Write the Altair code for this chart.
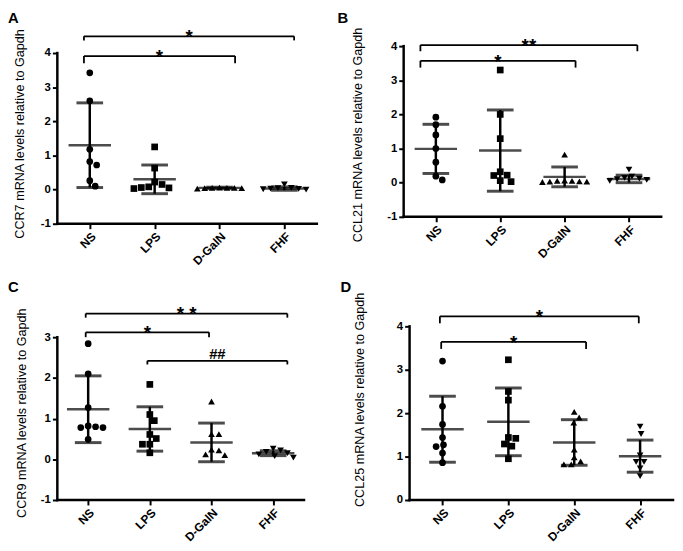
import altair as alt
import pandas as pd
import numpy as np

GROUPS = ["NS", "LPS", "D-GalN", "FHF"]
SHAPES = ["circle", "square", "triangle-up", "triangle-down"]

# ---- Panel A: CCR7 ----
a_ns = [3.42, 2.6, 1.18, 0.82, 0.72, 0.26, 0.1]
a_lps = [1.25, 0.63, 0.22, 0.15, 0.06, 0.05, 0.03, 0.08]
a_dgaln = [0.06, 0.05, 0.05, 0.04, 0.04, 0.03, 0.05]
a_fhf = [0.15, 0.05, 0.03, 0.02, 0.01, 0.04, 0.0]
a_mean = [1.30, 0.30, 0.05, 0.03]
a_sd = [1.24, 0.42, 0.02, 0.05]
a_brackets = [(-0.09, 2.24, 3.91, 3.70, "*"), (-0.09, 3.15, 4.49, 4.37, "*")]

# ---- Panel B: CCL21 ----
b_ns = [1.92, 1.7, 1.4, 1.0, 0.6, 0.19, 0.08]
b_lps = [3.3, 2.0, 1.29, 0.32, 0.21, 0.22, 0.06, 0.03]
b_dgaln = [0.82, 0.05, 0.03, 0.02, 0.04, 0.06, 0.03, 0.05]
b_fhf = [0.38, 0.18, 0.14, 0.1, 0.08, 0.05, 0.12]
b_mean = [0.99, 0.94, 0.17, 0.11]
b_sd = [0.72, 1.19, 0.29, 0.11]
b_brackets = [(-0.24, 2.17, 3.57, 3.37, "*"), (-0.24, 3.13, 4.03, 3.85, "**")]

# ---- Panel C: CCR9 ----
c_ns = [2.84, 2.1, 1.27, 0.82, 0.8, 0.78, 0.78, 0.49]
c_lps = [1.84, 1.1, 0.95, 0.61, 0.51, 0.37, 0.37, 0.16]
c_dgaln = [1.42, 0.62, 0.62, 0.24, 0.22, 0.12, 0.1]
c_fhf = [0.26, 0.22, 0.18, 0.15, 0.12, 0.08, 0.04]
c_mean = [1.23, 0.745, 0.415, 0.15]
c_sd = [0.82, 0.545, 0.475, 0.06]
c_brackets = [(-0.04, 1.96, 3.12, 3.0, "*"), (-0.04, 3.23, 3.58, 3.48, "* *"),
              (0.96, 3.23, 2.42, 2.33, "##")]

# ---- Panel D: CCL25 ----
d_ns = [3.2, 2.16, 1.74, 1.44, 1.27, 1.23, 1.08, 0.86]
d_lps = [3.23, 2.5, 2.3, 1.44, 1.42, 1.29, 1.24, 0.95]
d_dgaln = [2.03, 1.9, 1.78, 1.16, 0.98, 0.89, 0.82, 0.82]
d_fhf = [1.69, 1.52, 1.03, 0.88, 0.88, 0.73, 0.55]
d_mean = [1.63, 1.80, 1.325, 1.01]
d_sd = [0.76, 0.78, 0.525, 0.37]
d_brackets = [(-0.02, 2.18, 3.64, 3.48, "*"), (-0.04, 2.98, 4.23, 4.07, "*")]

FONT = "Liberation Sans"


def swarm(vals, ppu, pps, d=7.5):
    """Simple beeswarm layout: offsets (in category steps) so markers don't overlap."""
    placed = []
    out = [0.0] * len(vals)
    order = sorted(range(len(vals)), key=lambda i: -vals[i])
    cands = sorted(np.arange(-40, 40.01, 0.5), key=lambda o: (abs(o), o < 0))
    for i in order:
        yp = vals[i] * ppu
        chosen = 0.0
        for o in cands:
            if all((o - px) ** 2 + (yp - py) ** 2 >= d * d for px, py in placed):
                chosen = o
                break
        placed.append((chosen, yp))
        out[i] = chosen / pps
    return out


def panel(letter, ytitle, pts, means, sds, brk, ydom, yvals, w, h, tx, ty, lx, ly,
          top_pad=0, left_pad=0):
    """w, h: visible axis extent in px; top_pad/left_pad: extra room inside the cell."""
    ppu = h / (ydom[1] - ydom[0])
    pps = w / 4.0
    ytop = ydom[1] + top_pad / ppu
    xleft = -0.5 - left_pad / pps
    rows = []
    for gi, vals in enumerate(pts):
        offs = swarm(vals, ppu, pps)
        for v, o in zip(vals, offs):
            rows.append({"x": gi + o, "y": v, "g": GROUPS[gi]})
    dp = pd.DataFrame(rows)
    ds = pd.DataFrame({
        "x": list(range(4)),
        "y": means,
        "lo": [m - s for m, s in zip(means, sds)],
        "hi": [m + s for m, s in zip(means, sds)],
    })
    db = pd.DataFrame(brk, columns=["x", "x2", "y", "y2", "label"])
    db["xm"] = (db["x"] + db["x2"]) / 2
    dax = pd.DataFrame({"x": [-0.5], "x2": [3.5], "y": [ydom[0]], "y2": [ydom[1]]})

    xs = alt.Scale(domain=[xleft, 3.5], nice=False, zero=False)
    ys = alt.Scale(domain=[ydom[0], ytop], nice=False, zero=False)
    xa = alt.Axis(values=[0, 1, 2, 3],
                  labelExpr="['NS','LPS','D-GalN','FHF'][datum.value]",
                  title=None, labelAngle=-45, labelAlign="right",
                  labelBaseline="top", labelPadding=2, labelFontSize=12,
                  labelFont=FONT, labelFontWeight="bold", labelColor="black",
                  tickColor="black", tickWidth=2, tickSize=5,
                  grid=False, domain=False)
    ya = alt.Axis(values=yvals, labelExpr="'' + datum.value", title=ytitle, titleX=tx,
                  titleY=top_pad + h / 2 + ty, labelPadding=2, grid=False, domain=False,
                  labelFontSize=11.5, labelFont=FONT, labelFontWeight="bold",
                  labelColor="black", titleFont=FONT, titleFontSize=12.8,
                  titleFontWeight="normal", titleColor="black",
                  tickColor="black", tickWidth=2, tickSize=5,
                  offset=-left_pad)

    def X(f="x"):
        return alt.X(f + ":Q", scale=xs, axis=xa)

    def Y(f="y"):
        return alt.Y(f + ":Q", scale=ys, axis=ya)

    yline = alt.Chart(dax).mark_rule(color="black", strokeWidth=2.5, strokeCap="square").encode(
        x=X("x"), y=Y("y"), y2="y2:Q")
    xline = alt.Chart(dax).mark_rule(color="black", strokeWidth=2.5, strokeCap="square").encode(
        x=X("x"), x2="x2:Q", y=Y("y"))
    points = alt.Chart(dp).mark_point(filled=True, size=46, opacity=1, color="black").encode(
        x=X(), y=Y(),
        shape=alt.Shape("g:N", scale=alt.Scale(domain=GROUPS, range=SHAPES), legend=None))
    err = alt.Chart(ds).mark_rule(color="black", strokeWidth=2.5).encode(
        x=X(), y=Y("lo"), y2="hi:Q")
    mean = alt.Chart(ds).mark_tick(orient="horizontal", size=43, thickness=2.5, color="black").encode(
        x=X(), y=Y("y"))
    caphi = alt.Chart(ds).mark_tick(orient="horizontal", size=27, thickness=3, color="black").encode(
        x=X(), y=Y("hi"))
    caplo = alt.Chart(ds).mark_tick(orient="horizontal", size=27, thickness=3, color="black").encode(
        x=X(), y=Y("lo"))
    bh = alt.Chart(db).mark_rule(color="black", strokeWidth=1.8).encode(
        x=X("x"), x2="x2:Q", y=Y("y"))
    bl = alt.Chart(db).mark_rule(color="black", strokeWidth=1.8).encode(
        x=X("x"), y=Y("y"), y2="y2:Q")
    br = alt.Chart(db).mark_rule(color="black", strokeWidth=1.8).encode(
        x=X("x2"), y=Y("y"), y2="y2:Q")
    stars = alt.Chart(db).transform_filter("indexof(datum.label, '#') < 0").mark_text(
        baseline="alphabetic", dy=7, fontSize=19, fontWeight="bold", font=FONT, color="black").encode(
        x=X("xm"), y=Y("y"), text="label:N")
    hashes = alt.Chart(db).transform_filter("indexof(datum.label, '#') >= 0").mark_text(
        baseline="alphabetic", dy=-2, fontSize=15, fontWeight="bold", font=FONT, color="black").encode(
        x=X("xm"), y=Y("y"), text="label:N")
    lab = alt.Chart(pd.DataFrame({"t": [letter]})).mark_text(
        align="left", baseline="top", fontSize=15, fontWeight="bold", font=FONT, color="black").encode(
        x=alt.value(lx), y=alt.value(ly), text="t:N")

    return alt.layer(yline, xline, points, err, mean, caphi, caplo, bh, bl, br,
                     stars, hashes, lab).properties(width=w + left_pad, height=h + top_pad)


A = panel("A", "CCR7 mRNA levels relative to Gapdh", [a_ns, a_lps, a_dgaln, a_fhf],
          a_mean, a_sd, a_brackets, [-1, 4], [-1, 0, 1, 2, 3, 4], 263, 173, -31, -5, -50, -35,
          top_pad=7)
B = panel("B", "CCL21 mRNA levels relative to Gapdh", [b_ns, b_lps, b_dgaln, b_fhf],
          b_mean, b_sd, b_brackets, [-1, 4], [-1, 0, 1, 2, 3, 4], 261, 173, -40, 3, -67, -35)
C = panel("C", "CCR9 mRNA levels relative to Gapdh", [c_ns, c_lps, c_dgaln, c_fhf],
          c_mean, c_sd, c_brackets, [-1, 3], [-1, 0, 1, 2, 3], 250, 165, -29, -6, -50, -47,
          top_pad=11)
D = panel("D", "CCL25 mRNA levels relative to Gapdh", [d_ns, d_lps, d_dgaln, d_fhf],
          d_mean, d_sd, d_brackets, [0, 4], [0, 1, 2, 3, 4], 267, 176, -44, -14, -64, -47,
          left_pad=6)

chart = alt.concat(A, B, C, D, columns=2, bounds="flush",
                   spacing={"row": 104, "column": 88}).properties(
    padding=0, background="white"
).configure_view(stroke=None)

chart.save("out.html", embed_options={"renderer": "svg", "actions": False})
